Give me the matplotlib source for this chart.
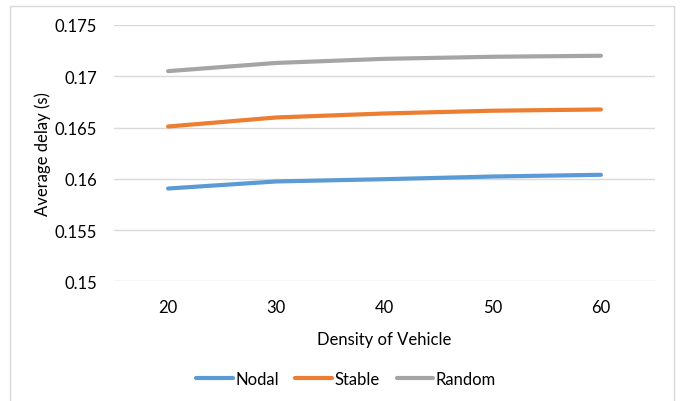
import matplotlib
matplotlib.use("Agg")
import matplotlib.pyplot as plt
from matplotlib.patches import Rectangle

plt.rcParams['font.family'] = ['Lato', 'DejaVu Sans']

categories = ["20", "30", "40", "50", "60"]
nodal = [0.15905, 0.15974, 0.15996, 0.16022, 0.16039]
stable = [0.16510, 0.16598, 0.16637, 0.16664, 0.16676]
random_ = [0.17050, 0.17130, 0.17170, 0.17190, 0.17200]
yticks = [0.15, 0.155, 0.16, 0.165, 0.17, 0.175]
ytick_labels = ["0.15", "0.155", "0.16", "0.165", "0.17", "0.175"]

fig = plt.figure(figsize=(6.86, 4.02), dpi=100)
ax = fig.add_axes([114/686, 1-282.3/402, (655-114)/686, (282.3-26)/402])

x = list(range(len(categories)))
ax.plot(x, nodal, color="#5B9BD5", lw=3, solid_capstyle="round", label="Nodal")
ax.plot(x, stable, color="#ED7D31", lw=3, solid_capstyle="round", label="Stable")
ax.plot(x, random_, color="#A5A5A5", lw=3, solid_capstyle="round", label="Random")

ax.set_xlim(-0.5, len(categories) - 0.5)
ax.set_ylim(0.15, 0.175)
ax.set_xticks(x)
ax.set_xticklabels(categories)
ax.set_yticks(yticks)
ax.set_yticklabels(ytick_labels)
ax.tick_params(axis="both", length=0, labelsize=12, colors="#000000")
ax.tick_params(axis="x", pad=13)
ax.tick_params(axis="y", pad=12)
ax.grid(axis="y", color="#D9D9D9", lw=1)
ax.set_axisbelow(True)
for s in ax.spines.values():
    s.set_visible(False)

ax.set_xlabel("Density of Vehicle", fontsize=12, labelpad=11)
ax.set_ylabel("Average delay (s)", fontsize=12, labelpad=3)

leg = fig.legend(loc="center", bbox_to_anchor=(346/686, 1-380/402), ncol=3,
                 frameon=False, fontsize=12, handlelength=2.2, handletextpad=0.15,
                 columnspacing=1.0)

fig.patches.append(Rectangle((10/686, -0.02), (674-10)/686, 1.02-7/402,
                             transform=fig.transFigure, fill=False,
                             edgecolor="#D9D9D9", lw=1))

fig.savefig("out.png", dpi=100)
